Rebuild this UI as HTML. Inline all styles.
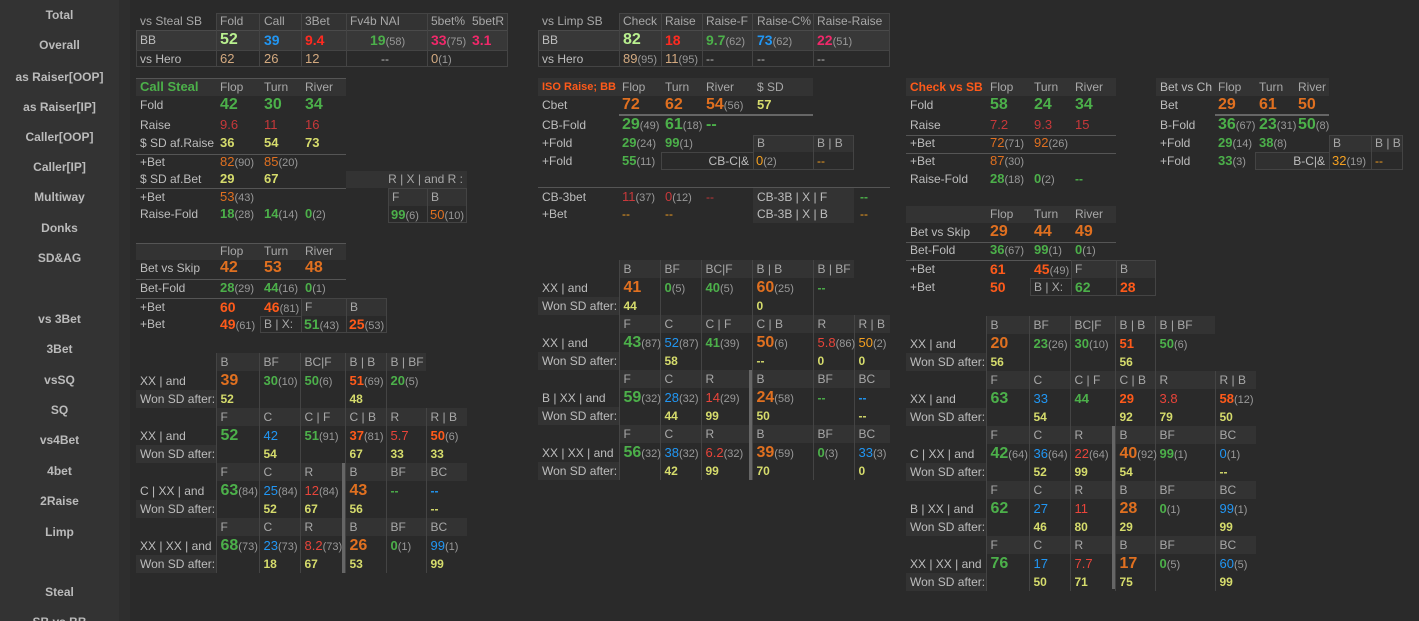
<!DOCTYPE html>
<html><head><meta charset="utf-8"><style>
html{margin:0;width:1419px;height:621px;overflow:hidden}
body{margin:0;width:1419px;height:621px;background:#2a2a2a;font-family:"Liberation Sans",Arial,sans-serif;font-size:12px;color:#bdbdbd;position:relative;overflow:hidden}
.sb{position:absolute;left:0;top:0;width:119px;height:621px;background:#333;overflow:hidden}
.st{position:absolute;left:119px;top:0;width:11px;height:621px;background:#2e2e2e}
.sb div{position:absolute;left:0;width:119px;text-align:center;font-weight:bold;font-size:12px;color:#bbb;line-height:16px}
i{position:absolute;font-style:normal;white-space:nowrap;line-height:18px}
.bg{position:absolute;background:#333}
.bx{position:absolute;border:1px solid #444;box-sizing:border-box}
.ln{position:absolute;height:1px;background:#555}
.tk{position:absolute;height:2px;background:#666}
.vb{position:absolute;width:3px;background:#666}
.hd{color:#a8a8a8}
.G{color:#4cb04a}.O{color:#e07020}.OR{color:#ff5a1a}.R{color:#e8443a}.DR{color:#c8383a}.B{color:#2196f3}.Y{color:#d6dc6c}.P{color:#f0286a}.T{color:#d4aa80}.GO{color:#f5a020}.LG{color:#b9f08f}.RR{color:#ff2a20}
b{font-weight:bold}
.L{font-size:16px}.M{font-size:14px}.S{font-size:13px}
.k{color:#999;font-weight:normal;font-size:11px}
table.g{position:absolute;border-collapse:collapse;table-layout:fixed;font-size:12px}
table.g td{padding:0 0 0 4px;white-space:nowrap;overflow:visible}
table.g td+td{border-left:1px solid #444}
table.g tr.h td{height:18px;background:#333;color:#a8a8a8}
table.g tr.h td:first-child{background:none}
table.g tr.v td{height:19px}
table.g tr.w td{height:18px;color:#d6dc6c;font-weight:bold}
table.g tr.w td:first-child{background:#333;color:#bdbdbd;font-weight:normal}
</style></head><body>
<div class="sb">
<div style="top:7px">Total</div><div style="top:37px">Overall</div><div style="top:69px">as Raiser[OOP]</div><div style="top:99px">as Raiser[IP]</div><div style="top:129px">Caller[OOP]</div><div style="top:159px">Caller[IP]</div><div style="top:189px">Multiway</div><div style="top:220px">Donks</div><div style="top:250px">SD&amp;AG</div><div style="top:311px">vs 3Bet</div><div style="top:341px">3Bet</div><div style="top:372px">vsSQ</div><div style="top:402px">SQ</div><div style="top:432px">vs4Bet</div><div style="top:463px">4bet</div><div style="top:493px">2Raise</div><div style="top:524px">Limp</div><div style="top:584px">Steal</div><div style="top:614px">SB vs BB</div>
</div><div class="st"></div>

<!-- vs Steal SB -->
<div class="bg" style="left:216px;top:13px;width:292px;height:17px"></div>
<div class="bx" style="left:136px;top:30px;width:372px;height:21px;background:#383838;border-color:#4a4a4a"></div>
<div class="bx" style="left:136px;top:50px;width:372px;height:17px"></div>
<div class="bx" style="left:216px;top:13px;width:44px;height:54px"></div><div class="bx" style="left:259px;top:13px;width:43px;height:54px"></div><div class="bx" style="left:301px;top:13px;width:46px;height:54px"></div><div class="bx" style="left:346px;top:13px;width:82px;height:54px"></div><div class="bx" style="left:427px;top:13px;width:81px;height:54px"></div>
<i class="hd" style="left:140px;top:12px">vs Steal SB</i><i class="hd" style="left:220px;top:12px">Fold</i><i class="hd" style="left:264px;top:12px">Call</i><i class="hd" style="left:305px;top:12px">3Bet</i><i class="hd" style="left:350px;top:12px">Fv4b NAI</i><i class="hd" style="left:431px;top:12px">5bet%</i><i class="hd" style="left:472px;top:12px">5betR</i>
<i style="left:140px;top:31px">BB</i><b><i class="LG L" style="left:220px;top:31px">52</i><i class="B M" style="left:264px;top:31px">39</i><i class="RR M" style="left:305px;top:31px">9.4</i><i class="G M" style="left:370px;top:31px">19<span class="k">(58)</span></i><i class="P M" style="left:431px;top:31px">33<span class="k">(75)</span></i><i class="P M" style="left:472px;top:31px">3.1</i></b>
<i style="left:140px;top:50px">vs Hero</i><i class="T S" style="left:220px;top:50px">62</i><i class="T S" style="left:264px;top:50px">26</i><i class="T S" style="left:305px;top:50px">12</i><i style="left:381px;top:50px">--</i><i class="T S" style="left:431px;top:50px">0<span class="k">(1)</span></i>

<!-- vs Limp SB -->
<div class="bg" style="left:619px;top:13px;width:271px;height:17px"></div>
<div class="bx" style="left:538px;top:30px;width:352px;height:21px;background:#383838;border-color:#4a4a4a"></div>
<div class="bx" style="left:538px;top:50px;width:352px;height:17px"></div>
<div class="bx" style="left:619px;top:13px;width:43px;height:54px"></div><div class="bx" style="left:661px;top:13px;width:42px;height:54px"></div><div class="bx" style="left:702px;top:13px;width:51px;height:54px"></div><div class="bx" style="left:752px;top:13px;width:62px;height:54px"></div><div class="bx" style="left:813px;top:13px;width:77px;height:54px"></div>
<i class="hd" style="left:542px;top:12px">vs Limp SB</i><i class="hd" style="left:623px;top:12px">Check</i><i class="hd" style="left:665px;top:12px">Raise</i><i class="hd" style="left:706px;top:12px">Raise-F</i><i class="hd" style="left:757px;top:12px">Raise-C%</i><i class="hd" style="left:817px;top:12px">Raise-Raise</i>
<i style="left:542px;top:31px">BB</i><b><i class="LG L" style="left:623px;top:31px">82</i><i class="RR M" style="left:665px;top:31px">18</i><i class="G M" style="left:706px;top:31px">9.7<span class="k">(62)</span></i><i class="B M" style="left:757px;top:31px">73<span class="k">(62)</span></i><i class="P M" style="left:817px;top:31px">22<span class="k">(51)</span></i></b>
<i style="left:542px;top:50px">vs Hero</i><i class="T S" style="left:623px;top:50px">89<span class="k">(95)</span></i><i class="T S" style="left:665px;top:50px">11<span class="k">(95)</span></i><i style="left:706px;top:50px">--</i><i style="left:757px;top:50px">--</i><i style="left:817px;top:50px">--</i>

<!-- Call Steal -->
<div class="bg" style="left:136px;top:78px;width:210px;height:18px"></div><div class="ln" style="left:136px;top:78px;width:210px"></div>
<i class="G" style="left:140px;top:78px;font-weight:bold;font-size:13px">Call Steal</i><i class="hd" style="left:220px;top:78px">Flop</i><i class="hd" style="left:264px;top:78px">Turn</i><i class="hd" style="left:305px;top:78px">River</i>
<i style="left:140px;top:96px">Fold</i><b><i class="G L" style="left:220px;top:96px">42</i><i class="G L" style="left:264px;top:96px">30</i><i class="G L" style="left:305px;top:96px">34</i></b>
<i style="left:140px;top:116px">Raise</i><i class="DR S" style="left:220px;top:116px">9.6</i><i class="DR S" style="left:264px;top:116px">11</i><i class="DR S" style="left:305px;top:116px">16</i>
<i style="left:140px;top:134px">$ SD af.Raise</i><b><i class="Y S" style="left:220px;top:134px">36</i><i class="Y S" style="left:264px;top:134px">54</i><i class="Y S" style="left:305px;top:134px">73</i></b>
<div class="ln" style="left:136px;top:154px;width:210px"></div>
<i style="left:140px;top:153px">+Bet</i><i class="O S" style="left:220px;top:153px">82<span class="k">(90)</span></i><i class="O S" style="left:264px;top:153px">85<span class="k">(20)</span></i>
<i style="left:140px;top:170px">$ SD af.Bet</i><b><i class="Y S" style="left:220px;top:170px">29</i><i class="Y S" style="left:264px;top:170px">67</i></b>
<div class="ln" style="left:136px;top:188px;width:210px"></div>
<i style="left:140px;top:188px">+Bet</i><i class="O S" style="left:220px;top:188px">53<span class="k">(43)</span></i>
<i style="left:140px;top:205px">Raise-Fold</i><b><i class="G S" style="left:220px;top:205px">18<span class="k">(28)</span></i><i class="G S" style="left:264px;top:205px">14<span class="k">(14)</span></i><i class="G S" style="left:305px;top:205px">0<span class="k">(2)</span></i></b>
<div class="bg" style="left:346px;top:171px;width:121px;height:17px"></div><i class="hd" style="left:346px;top:170px;width:117px;text-align:right">R | X | and R :</i>
<div class="bg" style="left:388px;top:188px;width:79px;height:18px"></div><div class="bx" style="left:388px;top:188px;width:40px;height:35px"></div><div class="bx" style="left:427px;top:188px;width:40px;height:35px"></div>
<i class="hd" style="left:392px;top:188px">F</i><i class="hd" style="left:431px;top:188px">B</i><i class="G S" style="left:391px;top:206px;font-weight:bold">99<span class="k">(6)</span></i><i class="O S" style="left:430px;top:206px">50<span class="k">(10)</span></i>

<!-- Bet vs Skip left -->
<div class="bg" style="left:136px;top:243px;width:210px;height:17px"></div><div class="ln" style="left:136px;top:243px;width:210px"></div>
<i class="hd" style="left:220px;top:242px">Flop</i><i class="hd" style="left:264px;top:242px">Turn</i><i class="hd" style="left:305px;top:242px">River</i>
<i style="left:140px;top:259px">Bet vs Skip</i><b><i class="O L" style="left:220px;top:259px">42</i><i class="O L" style="left:264px;top:259px">53</i><i class="O L" style="left:305px;top:259px">48</i></b>
<div class="ln" style="left:136px;top:279px;width:210px"></div>
<i style="left:140px;top:279px">Bet-Fold</i><b><i class="G S" style="left:220px;top:279px">28<span class="k">(29)</span></i><i class="G S" style="left:264px;top:279px">44<span class="k">(16)</span></i><i class="G S" style="left:305px;top:279px">0<span class="k">(1)</span></i></b>
<div class="ln" style="left:136px;top:298px;width:165px"></div>
<div class="bg" style="left:301px;top:298px;width:86px;height:18px"></div><div class="bx" style="left:301px;top:298px;width:46px;height:35px"></div><div class="bx" style="left:346px;top:298px;width:41px;height:35px"></div><div class="bx" style="left:260px;top:316px;width:42px;height:17px"></div>
<i style="left:140px;top:298px">+Bet</i><b><i class="OR M" style="left:220px;top:298px">60</i><i class="OR M" style="left:264px;top:298px">46<span class="k">(81)</span></i></b><i class="hd" style="left:305px;top:298px">F</i><i class="hd" style="left:350px;top:298px">B</i>
<i style="left:140px;top:315px">+Bet</i><b><i class="OR M" style="left:220px;top:315px">49<span class="k">(61)</span></i></b><i class="hd" style="left:264px;top:315px">B | X:</i><b><i class="G M" style="left:304px;top:315px">51<span class="k">(43)</span></i><i class="OR M" style="left:349px;top:315px">25<span class="k">(53)</span></i></b>

<!-- ISO Raise -->
<div class="bg" style="left:538px;top:78px;width:275px;height:18px"></div>
<i class="OR" style="left:542px;top:78px;font-weight:bold;font-size:11px">ISO Raise; BB</i><i class="hd" style="left:622px;top:78px">Flop</i><i class="hd" style="left:665px;top:78px">Turn</i><i class="hd" style="left:706px;top:78px">River</i><i class="hd" style="left:757px;top:78px">$ SD</i>
<i style="left:542px;top:96px">Cbet</i><b><i class="O L" style="left:622px;top:96px">72</i><i class="O L" style="left:665px;top:96px">62</i><i class="O L" style="left:706px;top:96px">54<span class="k">(56)</span></i><i class="Y S" style="left:757px;top:96px">57</i></b>
<div class="tk" style="left:619px;top:114px;width:194px"></div>
<i style="left:542px;top:116px">CB-Fold</i><b><i class="G L" style="left:622px;top:116px">29<span class="k">(49)</span></i><i class="G L" style="left:665px;top:116px">61<span class="k">(18)</span></i><i class="G L" style="left:706px;top:116px">--</i></b>
<i style="left:542px;top:134px">+Fold</i><b><i class="G S" style="left:622px;top:134px">29<span class="k">(24)</span></i><i class="G S" style="left:665px;top:134px">99<span class="k">(1)</span></i></b>
<i style="left:542px;top:152px">+Fold</i><b><i class="G S" style="left:622px;top:152px">55<span class="k">(11)</span></i></b>
<div class="bg" style="left:753px;top:135px;width:101px;height:17px"></div><div class="bx" style="left:753px;top:135px;width:61px;height:35px"></div><div class="bx" style="left:813px;top:135px;width:41px;height:35px"></div><div class="bx" style="left:661px;top:152px;width:93px;height:18px"></div>
<i class="hd" style="left:757px;top:134px">B</i><i class="hd" style="left:817px;top:134px">B | B</i><i style="left:661px;top:152px;width:88px;text-align:right">CB-C|&amp;</i><i class="GO S" style="left:756px;top:152px">0<span class="k">(2)</span></i><i class="GO" style="left:817px;top:152px">--</i>
<div class="ln" style="left:538px;top:187px;width:352px"></div>
<div class="bg" style="left:753px;top:188px;width:101px;height:35px"></div>
<i style="left:542px;top:188px">CB-3bet</i><i class="DR S" style="left:622px;top:188px">11<span class="k">(37)</span></i><i class="DR S" style="left:665px;top:188px">0<span class="k">(12)</span></i><i class="DR" style="left:706px;top:188px">--</i><i style="left:757px;top:188px">CB-3B | X | F</i><i class="G" style="left:860px;top:188px;font-weight:bold">--</i>
<i style="left:542px;top:205px">+Bet</i><i class="GO" style="left:622px;top:205px">--</i><i class="GO" style="left:665px;top:205px">--</i><i style="left:757px;top:205px">CB-3B | X | B</i><i class="GO" style="left:860px;top:205px">--</i>

<!-- Check vs SB -->
<div class="bg" style="left:906px;top:78px;width:210px;height:18px"></div>
<i class="OR" style="left:910px;top:78px;font-weight:bold">Check vs SB</i><i class="hd" style="left:990px;top:78px">Flop</i><i class="hd" style="left:1034px;top:78px">Turn</i><i class="hd" style="left:1075px;top:78px">River</i>
<i style="left:910px;top:96px">Fold</i><b><i class="G L" style="left:990px;top:96px">58</i><i class="G L" style="left:1034px;top:96px">24</i><i class="G L" style="left:1075px;top:96px">34</i></b>
<i style="left:910px;top:116px">Raise</i><i class="DR S" style="left:990px;top:116px">7.2</i><i class="DR S" style="left:1034px;top:116px">9.3</i><i class="DR S" style="left:1075px;top:116px">15</i>
<div class="ln" style="left:906px;top:135px;width:210px"></div>
<i style="left:910px;top:134px">+Bet</i><i class="O S" style="left:990px;top:134px">72<span class="k">(71)</span></i><i class="O S" style="left:1034px;top:134px">92<span class="k">(26)</span></i>
<div class="ln" style="left:906px;top:153px;width:210px"></div>
<i style="left:910px;top:152px">+Bet</i><i class="O S" style="left:990px;top:152px">87<span class="k">(30)</span></i>
<i style="left:910px;top:170px">Raise-Fold</i><b><i class="G S" style="left:990px;top:170px">28<span class="k">(18)</span></i><i class="G S" style="left:1034px;top:170px">0<span class="k">(2)</span></i><i class="G" style="left:1075px;top:170px">--</i></b>

<!-- Bet vs Ch -->
<div class="bg" style="left:1156px;top:78px;width:173px;height:18px"></div>
<i style="left:1160px;top:78px">Bet vs Ch</i><i class="hd" style="left:1218px;top:78px">Flop</i><i class="hd" style="left:1259px;top:78px">Turn</i><i class="hd" style="left:1298px;top:78px">River</i>
<i style="left:1160px;top:96px">Bet</i><b><i class="O L" style="left:1218px;top:96px">29</i><i class="O L" style="left:1259px;top:96px">61</i><i class="O L" style="left:1298px;top:96px">50</i></b>
<div class="tk" style="left:1215px;top:114px;width:114px"></div>
<i style="left:1160px;top:116px">B-Fold</i><b><i class="G L" style="left:1218px;top:116px">36<span class="k">(67)</span></i><i class="G L" style="left:1259px;top:116px">23<span class="k">(31)</span></i><i class="G L" style="left:1298px;top:116px">50<span class="k">(8)</span></i></b>
<i style="left:1160px;top:134px">+Fold</i><b><i class="G S" style="left:1218px;top:134px">29<span class="k">(14)</span></i><i class="G S" style="left:1259px;top:134px">38<span class="k">(8)</span></i></b>
<i style="left:1160px;top:152px">+Fold</i><b><i class="G S" style="left:1218px;top:152px">33<span class="k">(3)</span></i></b>
<div class="bg" style="left:1329px;top:135px;width:74px;height:17px"></div><div class="bx" style="left:1329px;top:135px;width:43px;height:35px"></div><div class="bx" style="left:1371px;top:135px;width:32px;height:35px"></div><div class="bx" style="left:1255px;top:152px;width:75px;height:18px;background:#303030"></div>
<i class="hd" style="left:1333px;top:134px">B</i><i class="hd" style="left:1375px;top:134px">B | B</i><i style="left:1255px;top:152px;width:70px;text-align:right">B-C|&amp;</i><i class="GO S" style="left:1332px;top:152px">32<span class="k">(19)</span></i><i class="GO" style="left:1375px;top:152px">--</i>

<!-- Bet vs Skip right -->
<div class="bg" style="left:906px;top:206px;width:210px;height:17px"></div>
<i class="hd" style="left:990px;top:205px">Flop</i><i class="hd" style="left:1034px;top:205px">Turn</i><i class="hd" style="left:1075px;top:205px">River</i>
<i style="left:910px;top:223px">Bet vs Skip</i><b><i class="O L" style="left:990px;top:223px">29</i><i class="O L" style="left:1034px;top:223px">44</i><i class="O L" style="left:1075px;top:223px">49</i></b>
<div class="ln" style="left:906px;top:242px;width:210px"></div>
<i style="left:910px;top:241px">Bet-Fold</i><b><i class="G S" style="left:990px;top:241px">36<span class="k">(67)</span></i><i class="G S" style="left:1034px;top:241px">99<span class="k">(1)</span></i><i class="G S" style="left:1075px;top:241px">0<span class="k">(1)</span></i></b>
<div class="ln" style="left:906px;top:260px;width:165px"></div>
<div class="bg" style="left:1071px;top:260px;width:85px;height:18px"></div><div class="bx" style="left:1071px;top:260px;width:46px;height:36px"></div><div class="bx" style="left:1116px;top:260px;width:40px;height:36px"></div><div class="bx" style="left:1030px;top:278px;width:42px;height:18px"></div>
<i style="left:910px;top:260px">+Bet</i><b><i class="OR M" style="left:990px;top:260px">61</i><i class="OR M" style="left:1034px;top:260px">45<span class="k">(49)</span></i></b><i class="hd" style="left:1075px;top:260px">F</i><i class="hd" style="left:1120px;top:260px">B</i>
<i style="left:910px;top:278px">+Bet</i><b><i class="OR M" style="left:990px;top:278px">50</i></b><i class="hd" style="left:1034px;top:278px">B | X:</i><b><i class="G M" style="left:1075px;top:278px">62</i><i class="OR M" style="left:1120px;top:278px">28</i></b>

<!-- LEFT GRID -->
<table class="g" style="left:136px;top:353px;width:245px"><colgroup><col style="width:80px"><col style="width:43px"><col style="width:41px"><col style="width:45px"><col style="width:41px"><col style="width:40px"></colgroup>
<tr class="h"><td></td><td>B</td><td>BF</td><td>BC|F</td><td>B | B</td><td>B | BF</td></tr>
<tr class="v"><td>XX | and</td><td><b class="O L">39</b></td><td><b class="G S">30<span class="k">(10)</span></b></td><td><b class="G S">50<span class="k">(6)</span></b></td><td><b class="OR S">51<span class="k">(69)</span></b></td><td><b class="G S">20<span class="k">(5)</span></b></td></tr>
<tr class="w"><td>Won SD after:</td><td>52</td><td></td><td></td><td>48</td><td></td></tr></table>
<table class="g" style="left:136px;top:408px;width:331px"><colgroup><col style="width:80px"><col style="width:43px"><col style="width:41px"><col style="width:45px"><col style="width:41px"><col style="width:40px"><col style="width:41px"></colgroup>
<tr class="h"><td></td><td>F</td><td>C</td><td>C | F</td><td>C | B</td><td>R</td><td>R | B</td></tr>
<tr class="v"><td>XX | and</td><td><b class="G L">52</b></td><td><span class="B S">42</span></td><td><b class="G S">51<span class="k">(91)</span></b></td><td><b class="OR S">37<span class="k">(81)</span></b></td><td><span class="R S">5.7</span></td><td><b class="OR S">50<span class="k">(6)</span></b></td></tr>
<tr class="w"><td>Won SD after:</td><td></td><td>54</td><td></td><td>67</td><td>33</td><td>33</td></tr></table>
<table class="g" style="left:136px;top:463px;width:331px"><colgroup><col style="width:80px"><col style="width:43px"><col style="width:41px"><col style="width:45px"><col style="width:41px"><col style="width:40px"><col style="width:41px"></colgroup>
<tr class="h"><td></td><td>F</td><td>C</td><td>R</td><td>B</td><td>BF</td><td>BC</td></tr>
<tr class="v"><td>C | XX | and</td><td><b class="G L">63<span class="k">(84)</span></b></td><td><span class="B S">25<span class="k">(84)</span></span></td><td><span class="R S">12<span class="k">(84)</span></span></td><td><b class="O L">43</b></td><td><b class="G">--</b></td><td><b class="B">--</b></td></tr>
<tr class="w"><td>Won SD after:</td><td></td><td>52</td><td>67</td><td>56</td><td></td><td>--</td></tr></table>
<table class="g" style="left:136px;top:518px;width:331px"><colgroup><col style="width:80px"><col style="width:43px"><col style="width:41px"><col style="width:45px"><col style="width:41px"><col style="width:40px"><col style="width:41px"></colgroup>
<tr class="h"><td></td><td>F</td><td>C</td><td>R</td><td>B</td><td>BF</td><td>BC</td></tr>
<tr class="v"><td>XX | XX | and</td><td><b class="G L">68<span class="k">(73)</span></b></td><td><span class="B S">23<span class="k">(73)</span></span></td><td><span class="R S">8.2<span class="k">(73)</span></span></td><td><b class="O L">26</b></td><td><b class="G S">0<span class="k">(1)</span></b></td><td><span class="B S">99<span class="k">(1)</span></span></td></tr>
<tr class="w"><td>Won SD after:</td><td></td><td>18</td><td>67</td><td>53</td><td></td><td>99</td></tr></table>
<div class="vb" style="left:342px;top:463px;height:110px"></div>

<!-- MIDDLE GRID -->
<table class="g" style="left:538px;top:260px;width:316px"><colgroup><col style="width:81px"><col style="width:41px"><col style="width:41px"><col style="width:51px"><col style="width:61px"><col style="width:41px"></colgroup>
<tr class="h"><td></td><td>B</td><td>BF</td><td>BC|F</td><td>B | B</td><td>B | BF</td></tr>
<tr class="v"><td>XX | and</td><td><b class="O L">41</b></td><td><b class="G S">0<span class="k">(5)</span></b></td><td><b class="G S">40<span class="k">(5)</span></b></td><td><b class="O L">60<span class="k">(25)</span></b></td><td><b class="G">--</b></td></tr>
<tr class="w"><td>Won SD after:</td><td>44</td><td></td><td></td><td>0</td><td></td></tr></table>
<table class="g" style="left:538px;top:315px;width:352px"><colgroup><col style="width:81px"><col style="width:41px"><col style="width:41px"><col style="width:51px"><col style="width:61px"><col style="width:41px"><col style="width:36px"></colgroup>
<tr class="h"><td></td><td>F</td><td>C</td><td>C | F</td><td>C | B</td><td>R</td><td>R | B</td></tr>
<tr class="v"><td>XX | and</td><td><b class="G L">43<span class="k">(87)</span></b></td><td><span class="B S">52<span class="k">(87)</span></span></td><td><b class="G S">41<span class="k">(39)</span></b></td><td><b class="O L">50<span class="k">(6)</span></b></td><td><span class="R S">5.8<span class="k">(86)</span></span></td><td><span class="GO S">50<span class="k">(2)</span></span></td></tr>
<tr class="w"><td>Won SD after:</td><td></td><td>58</td><td></td><td>--</td><td>0</td><td>0</td></tr></table>
<table class="g" style="left:538px;top:370px;width:352px"><colgroup><col style="width:81px"><col style="width:41px"><col style="width:41px"><col style="width:51px"><col style="width:61px"><col style="width:41px"><col style="width:36px"></colgroup>
<tr class="h"><td></td><td>F</td><td>C</td><td>R</td><td>B</td><td>BF</td><td>BC</td></tr>
<tr class="v"><td>B | XX | and</td><td><b class="G L">59<span class="k">(32)</span></b></td><td><span class="B S">28<span class="k">(32)</span></span></td><td><span class="R S">14<span class="k">(29)</span></span></td><td><b class="O L">24<span class="k">(58)</span></b></td><td><b class="G">--</b></td><td><b class="B">--</b></td></tr>
<tr class="w"><td>Won SD after:</td><td></td><td>44</td><td>99</td><td>50</td><td></td><td>--</td></tr></table>
<table class="g" style="left:538px;top:425px;width:352px"><colgroup><col style="width:81px"><col style="width:41px"><col style="width:41px"><col style="width:51px"><col style="width:61px"><col style="width:41px"><col style="width:36px"></colgroup>
<tr class="h"><td></td><td>F</td><td>C</td><td>R</td><td>B</td><td>BF</td><td>BC</td></tr>
<tr class="v"><td>XX | XX | and</td><td><b class="G L">56<span class="k">(32)</span></b></td><td><span class="B S">38<span class="k">(32)</span></span></td><td><span class="R S">6.2<span class="k">(32)</span></span></td><td><b class="O L">39<span class="k">(59)</span></b></td><td><b class="G S">0<span class="k">(3)</span></b></td><td><span class="B S">33<span class="k">(3)</span></span></td></tr>
<tr class="w"><td>Won SD after:</td><td></td><td>42</td><td>99</td><td>70</td><td></td><td>0</td></tr></table>
<div class="vb" style="left:749px;top:370px;height:110px"></div>

<!-- RIGHT GRID -->
<table class="g" style="left:906px;top:316px;width:309px"><colgroup><col style="width:80px"><col style="width:43px"><col style="width:41px"><col style="width:45px"><col style="width:40px"><col style="width:60px"></colgroup>
<tr class="h"><td></td><td>B</td><td>BF</td><td>BC|F</td><td>B | B</td><td>B | BF</td></tr>
<tr class="v"><td>XX | and</td><td><b class="O L">20</b></td><td><b class="G S">23<span class="k">(26)</span></b></td><td><b class="G S">30<span class="k">(10)</span></b></td><td><b class="OR S">51</b></td><td><b class="G S">50<span class="k">(6)</span></b></td></tr>
<tr class="w"><td>Won SD after:</td><td>56</td><td></td><td></td><td>56</td><td></td></tr></table>
<table class="g" style="left:906px;top:371px;width:350px"><colgroup><col style="width:80px"><col style="width:43px"><col style="width:41px"><col style="width:45px"><col style="width:40px"><col style="width:60px"><col style="width:41px"></colgroup>
<tr class="h"><td></td><td>F</td><td>C</td><td>C | F</td><td>C | B</td><td>R</td><td>R | B</td></tr>
<tr class="v"><td>XX | and</td><td><b class="G L">63</b></td><td><span class="B S">33</span></td><td><b class="G S">44</b></td><td><b class="OR S">29</b></td><td><span class="R S">3.8</span></td><td><b class="OR S">58<span class="k">(12)</span></b></td></tr>
<tr class="w"><td>Won SD after:</td><td></td><td>54</td><td></td><td>92</td><td>79</td><td>50</td></tr></table>
<table class="g" style="left:906px;top:426px;width:350px"><colgroup><col style="width:80px"><col style="width:43px"><col style="width:41px"><col style="width:45px"><col style="width:40px"><col style="width:60px"><col style="width:41px"></colgroup>
<tr class="h"><td></td><td>F</td><td>C</td><td>R</td><td>B</td><td>BF</td><td>BC</td></tr>
<tr class="v"><td>C | XX | and</td><td><b class="G L">42<span class="k">(64)</span></b></td><td><span class="B S">36<span class="k">(64)</span></span></td><td><span class="R S">22<span class="k">(64)</span></span></td><td><b class="O L">40<span class="k">(92)</span></b></td><td><b class="G S">99<span class="k">(1)</span></b></td><td><span class="B S">0<span class="k">(1)</span></span></td></tr>
<tr class="w"><td>Won SD after:</td><td></td><td>52</td><td>99</td><td>54</td><td></td><td>--</td></tr></table>
<table class="g" style="left:906px;top:481px;width:350px"><colgroup><col style="width:80px"><col style="width:43px"><col style="width:41px"><col style="width:45px"><col style="width:40px"><col style="width:60px"><col style="width:41px"></colgroup>
<tr class="h"><td></td><td>F</td><td>C</td><td>R</td><td>B</td><td>BF</td><td>BC</td></tr>
<tr class="v"><td>B | XX | and</td><td><b class="G L">62</b></td><td><span class="B S">27</span></td><td><span class="R S">11</span></td><td><b class="O L">28</b></td><td><b class="G S">0<span class="k">(1)</span></b></td><td><span class="B S">99<span class="k">(1)</span></span></td></tr>
<tr class="w"><td>Won SD after:</td><td></td><td>46</td><td>80</td><td>29</td><td></td><td>99</td></tr></table>
<table class="g" style="left:906px;top:536px;width:350px"><colgroup><col style="width:80px"><col style="width:43px"><col style="width:41px"><col style="width:45px"><col style="width:40px"><col style="width:60px"><col style="width:41px"></colgroup>
<tr class="h"><td></td><td>F</td><td>C</td><td>R</td><td>B</td><td>BF</td><td>BC</td></tr>
<tr class="v"><td>XX | XX | and</td><td><b class="G L">76</b></td><td><span class="B S">17</span></td><td><span class="R S">7.7</span></td><td><b class="O L">17</b></td><td><b class="G S">0<span class="k">(5)</span></b></td><td><span class="B S">60<span class="k">(5)</span></span></td></tr>
<tr class="w"><td>Won SD after:</td><td></td><td>50</td><td>71</td><td>75</td><td></td><td>99</td></tr></table>
<div class="vb" style="left:1112px;top:426px;height:163px"></div>
</body></html>
